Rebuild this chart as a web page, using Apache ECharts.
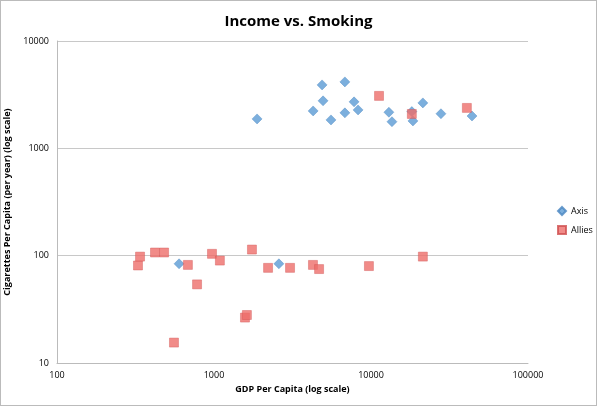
<!DOCTYPE html>
<html>
<head>
<meta charset="utf-8">
<script src="https://cdn.jsdelivr.net/npm/echarts@6/dist/echarts.min.js"></script>
<style>
  html, body { margin: 0; padding: 0; background: #fff; }
  #chart { width: 595px; height: 404px; border: 1px solid #bbb; }
</style>
</head>
<body>
<div id="chart"></div>
<script>
// GDP per capita, cigarettes per capita
var axisData = [
  [1880, 1880], [4880, 3900], [6820, 4160], [4950, 2770], [4280, 2230],
  [5560, 1840], [6820, 2140], [7800, 2710], [8270, 2280], [13000, 2170],
  [13600, 1770], [18200, 2200], [18500, 1800], [21400, 2650], [27900, 2100],
  [44000, 2000], [599, 84], [2590, 84]
];
var alliesData = [
  [11250, 3080], [18200, 2090], [40800, 2380],
  [328, 81], [338, 98], [421, 107], [481, 107], [682, 82], [971, 104],
  [1090, 90], [1745, 114], [780, 54], [2210, 77], [3050, 77], [4270, 82],
  [4670, 75], [9700, 80], [21400, 98], [556, 15.5], [1575, 26.5], [1620, 28]
];

var chart = echarts.init(document.getElementById('chart'));
var font = 'Open Sans, sans-serif';
function plain(v) { return String(Math.round(v)); }

chart.setOption({
  animation: false,
  title: {
    text: 'Income vs. Smoking',
    left: 'center',
    top: 8,
    textStyle: { fontFamily: font, fontSize: 15, fontWeight: 'bold', color: '#000' }
  },
  legend: {
    orient: 'vertical',
    left: 551,
    top: 200,
    itemWidth: 8,
    itemHeight: 8,
    itemGap: 9,
    textStyle: { fontFamily: font, fontSize: 9, color: '#000' },
    data: [
      { name: 'Axis', icon: 'diamond' },
      { name: 'Allies', icon: 'rect' }
    ]
  },
  grid: { left: 56, right: 68, top: 40, bottom: 42, outerBoundsMode: 'none', containLabel: false },
  xAxis: {
    type: 'log',
    logBase: 10,
    min: 100,
    max: 100000,
    name: 'GDP Per Capita (log scale)',
    nameLocation: 'middle',
    nameGap: 22,
    nameTextStyle: { fontFamily: font, fontSize: 9, fontWeight: 'bold', color: '#000' },
    axisLine: { lineStyle: { color: '#bbb' } },
    axisTick: { show: false },
    splitLine: { show: false },
    axisLabel: { fontFamily: font, fontSize: 9, color: '#000', formatter: plain }
  },
  yAxis: {
    type: 'log',
    logBase: 10,
    min: 10,
    max: 10000,
    name: 'Cigarettes Per Capita (per year) (log scale)',
    nameLocation: 'middle',
    nameGap: 33,
    nameTextStyle: { fontFamily: font, fontSize: 9, fontWeight: 'bold', color: '#000' },
    axisLine: { show: true, lineStyle: { color: '#bbb' } },
    axisTick: { show: false },
    splitLine: { lineStyle: { color: '#c8c8c8' } },
    axisLabel: { fontFamily: font, fontSize: 9, color: '#000', formatter: plain }
  },
  series: [{
    name: 'Axis',
    type: 'scatter',
    symbol: 'diamond',
    symbolSize: 10,
    itemStyle: { color: '#5b9bd5', borderColor: '#4a86c0', borderWidth: 0.5 },
    data: axisData
  }, {
    name: 'Allies',
    type: 'scatter',
    symbol: 'rect',
    symbolSize: 9,
    itemStyle: { color: '#ee6e6a', borderColor: '#d05050', borderWidth: 0.5 },
    data: alliesData
  }]
});
</script>
</body>
</html>
